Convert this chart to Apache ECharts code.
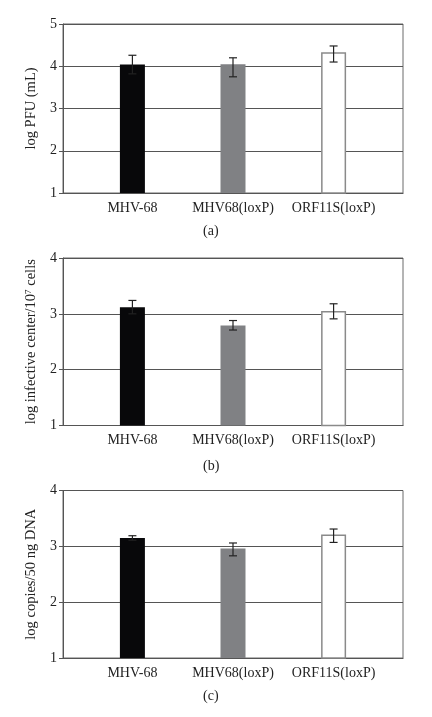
<!DOCTYPE html>
<html><head><meta charset="utf-8">
<script src="https://cdn.jsdelivr.net/npm/echarts@6/dist/echarts.min.js"></script>
<style>html,body{margin:0;padding:0;background:#fff}#c{width:432px;height:717px}</style>
</head><body><div id="c"></div>
<script>
const categories = ['MHV-68', 'MHV68(loxP)', 'ORF11S(loxP)'];
const barColors = ['#08080a', '#808184', '#ffffff'];
// panel (a) log PFU
const valuesA = [4.04, 4.05, 4.33];
const lowA = [3.82, 3.75, 4.10];
const highA = [4.26, 4.20, 4.48];
// panel (b) log infective center / 10^7 cells
const valuesB = [3.12, 2.79, 3.05];
const lowB = [3.00, 2.71, 2.91];
const highB = [3.24, 2.88, 3.18];
// panel (c) log copies / 50 ng DNA
const valuesC = [3.15, 2.96, 3.21];
const lowC = [3.11, 2.83, 3.07];
const highC = [3.19, 3.06, 3.31];
const yTicksA = [1, 2, 3, 4, 5];
const yTicksBC = [1, 2, 3, 4];
const yTitles = ['log PFU (mL)', 'log infective center/10{sup|7} cells', 'log copies/50 ng DNA'];
const panelLabels = ['(a)', '(b)', '(c)'];

const FONT = '"Liberation Serif", "DejaVu Serif", serif';
const panels = [
  {v: valuesA, lo: lowA, hi: highA, ticks: yTicksA, top: 24, h: 169, lab: 233},
  {v: valuesB, lo: lowB, hi: highB, ticks: yTicksBC, top: 258, h: 167.5, lab: 468},
  {v: valuesC, lo: lowC, hi: highC, ticks: yTicksBC, top: 490.5, h: 167.5, lab: 698}
];

const grid = [], xAxis = [], yAxis = [], series = [], graphic = [];
panels.forEach((p, i) => {
  grid.push({left: 63, width: 340, top: p.top, height: p.h, show: true, borderColor: '#6a6a6a', borderWidth: 1, backgroundColor: 'transparent'});
  xAxis.push({
    type: 'value', gridIndex: i, min: -0.69, max: 2.69,
    axisLine: {show: true, onZero: false, lineStyle: {color: '#555', width: 1.2}},
    axisTick: {show: false}, splitLine: {show: false},
    axisLabel: {customValues: [0, 1, 2], formatter: v => categories[Math.round(v)] || '',
      fontFamily: FONT, fontSize: 14, color: '#222', margin: 8}
  });
  yAxis.push({
    type: 'value', gridIndex: i, min: p.ticks[0], max: p.ticks[p.ticks.length - 1], interval: 1,
    axisLine: {show: true, onZero: false, lineStyle: {color: '#555'}},
    axisTick: {show: true, length: 4, lineStyle: {color: '#555'}},
    splitLine: {show: true, lineStyle: {color: '#555', width: 1}},
    axisLabel: {fontFamily: FONT, fontSize: 14, color: '#222', margin: 6},
    name: yTitles[i], nameLocation: 'middle', nameGap: 24, nameRotate: 90,
    nameTextStyle: {fontFamily: FONT, fontSize: 14.5, color: '#222',
      rich: {sup: {fontFamily: FONT, fontSize: 9, verticalAlign: 'top', color: '#222'}}}
  });
  series.push({
    type: 'bar', xAxisIndex: i, yAxisIndex: i, barWidth: 25,
    data: p.v.map((v, k) => ({value: [k, v], itemStyle: {color: barColors[k], borderColor: k === 2 ? '#8a8a8a' : barColors[k], borderWidth: k === 2 ? 1.5 : 0}}))
  });
  series.push({
    type: 'custom', xAxisIndex: i, yAxisIndex: i, z: 5,
    data: p.v.map((v, k) => [k, p.lo[k], p.hi[k]]),
    renderItem: (params, api) => {
      const x = api.value(0);
      const a = api.coord([x, api.value(1)]);
      const b = api.coord([x, api.value(2)]);
      const w = 4;
      const st = {stroke: '#222', lineWidth: 1.2};
      return {type: 'group', children: [
        {type: 'line', shape: {x1: a[0], y1: a[1], x2: b[0], y2: b[1]}, style: st},
        {type: 'line', shape: {x1: a[0] - w, y1: a[1], x2: a[0] + w, y2: a[1]}, style: st},
        {type: 'line', shape: {x1: b[0] - w, y1: b[1], x2: b[0] + w, y2: b[1]}, style: st}
      ]};
    }
  });
  graphic.push({type: 'text', left: 203, top: p.lab - 9, style: {text: panelLabels[i], font: '14px ' + FONT, fill: '#222'}});
});

const chart = echarts.init(document.getElementById('c'));
chart.setOption({animation: false, grid, xAxis, yAxis, series, graphic});
</script></body></html>
